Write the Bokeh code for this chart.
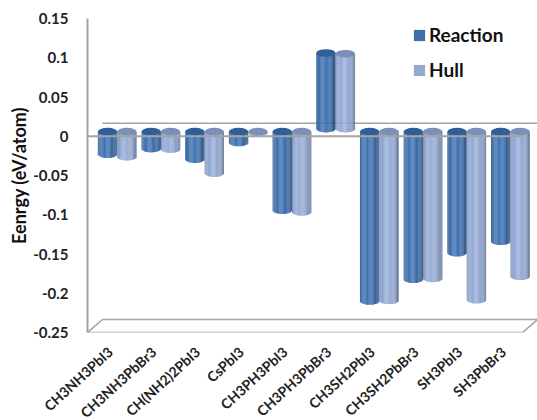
import numpy as np
from bokeh.plotting import figure
from bokeh.models import Range1d, FixedTicker, Legend, LegendItem
from bokeh.embed import file_html
from bokeh.resources import INLINE

categories = ["CH3NH3PbI3", "CH3NH3PbBr3", "CH(NH2)2PbI3", "CsPbI3", "CH3PH3PbI3",
              "CH3PH3PbBr3", "CH3SH2PbI3", "CH3SH2PbBr3", "SH3PbI3", "SH3PbBr3"]
reaction = [-0.0287, -0.0216, -0.0351, -0.0139, -0.1001, 0.0963, -0.2158, -0.1881, -0.1542, -0.1397]
hull = [-0.032, -0.0223, -0.0529, -0.001, -0.1023, 0.0955, -0.2149, -0.1869, -0.2142, -0.1843]
y_ticks = [0.15, 0.1, 0.05, 0, -0.05, -0.1, -0.15, -0.2, -0.25]
y_labels = ["0.15", "0.1", "0.05", "0", "-0.05", "-0.1", "-0.15", "-0.2", "-0.25"]

PX_X = 43.7          # px per category
PX_Y = 39.25 / 0.05  # px per unit
BAR_W = 19.4 / PX_X
CAP_H = 3.8 / PX_Y
BASE_NEG = 4.6 / PX_Y
BASE_POS = 7.6 / PX_Y
DEPTH_X = 15 / PX_X
DEPTH_Y = 13 / PX_Y
X0, X1 = -0.68, 9.62
FLOOR_R = X1 - DEPTH_X
Y_MIN, Y_MAX = -0.25, 0.15
TICK_SHIFT = -0.16

dark_stops = [(0, "#3d6698"), (0.12, "#3a6aa6"), (0.45, "#3f74b6"), (0.8, "#33619b"), (1, "#2c4f7c")]
light_stops = [(0, "#7a90b8"), (0.12, "#8aa1cd"), (0.45, "#9ab0da"), (0.8, "#889dc5"), (1, "#627495")]


def hex2rgb(h):
    return np.array([int(h[i:i + 2], 16) for i in (1, 3, 5)], float)


def shade(stops, t):
    ts = [s[0] for s in stops]
    cs = np.array([hex2rgb(s[1]) for s in stops])
    c = [np.interp(t, ts, cs[:, k]) for k in range(3)]
    return "#%02x%02x%02x" % tuple(int(round(v)) for v in c)


def cylinders(values, side, stops, cap):
    N = 22
    L, R, T, B, C = [], [], [], [], []
    cx, cy = [], []
    for i, v in enumerate(values):
        c = i + side * BAR_W / 2
        base = BASE_NEG if v < 0 else BASE_POS
        end = base + v
        for k in range(N):
            t = (k + 0.5) / N
            sag = CAP_H * np.sqrt(max(1 - (2 * t - 1) ** 2, 0))
            L.append(c - BAR_W / 2 + k * BAR_W / N)
            R.append(c - BAR_W / 2 + (k + 1.15) * BAR_W / N if k < N - 1 else c + BAR_W / 2)
            if v < 0:
                T.append(base)
                B.append(end - sag)
            else:
                T.append(end)
                B.append(base - sag)
            C.append(shade(stops, t))
        cx.append(c)
        cy.append(end if v > 0 else base)
    p.quad(left=L, right=R, top=T, bottom=B, fill_color=C, line_color=None)
    p.ellipse(x=cx, y=cy, width=BAR_W, height=2 * CAP_H, fill_color=cap, line_color=None)


p = figure(width=537, height=420, output_backend="svg", toolbar_location=None,
           x_range=Range1d(X0, X1), y_range=Range1d(Y_MIN, Y_MAX),
           frame_width=450, frame_height=314,
           min_border_left=87, min_border_right=0, min_border_top=18, min_border_bottom=88,
           background_fill_color="white", border_fill_color="white", outline_line_color=None)
p.grid.visible = False

GREY = "#a3a3a3"
p.segment([X0 + DEPTH_X, X0, X0 + DEPTH_X, FLOOR_R], [Y_MIN + DEPTH_Y, Y_MIN, 0 + DEPTH_Y, Y_MIN],
          [X1, FLOOR_R, X1, X1], [Y_MIN + DEPTH_Y, Y_MIN, 0 + DEPTH_Y, Y_MIN + DEPTH_Y],
          line_color=GREY, line_width=1.6)
p.segment([X0], [Y_MIN], [X0 + DEPTH_X], [Y_MIN + DEPTH_Y], line_color=GREY, line_width=1.6)

cylinders(reaction, -1, dark_stops, "#2f5f98")
cylinders(hull, 1, light_stops, "#7a90b8")

p.segment([X0], [0], [FLOOR_R], [0], line_color=GREY, line_width=1.8)

yax = p.yaxis[0]
yax.ticker = FixedTicker(ticks=y_ticks)
yax.major_label_overrides = dict(zip(y_ticks, y_labels))
yax.axis_label = "Eenrgy (eV/atom)"
yax.axis_label_text_font = "Lato"
yax.axis_label_text_font_style = "bold"
yax.axis_label_text_font_size = "18px"
yax.axis_label_text_color = "#111111"
yax.axis_label_standoff = 0
yax.major_label_text_font = "Lato"
yax.major_label_text_font_style = "bold"
yax.major_label_text_font_size = "15px"
yax.major_label_text_color = "#222222"
yax.major_label_standoff = 13
yax.major_tick_line_color = None
yax.minor_tick_line_color = None
yax.axis_line_color = GREY
yax.axis_line_width = 2

xax = p.xaxis[0]
xax.ticker = FixedTicker(ticks=[i + TICK_SHIFT for i in range(len(categories))])
xax.major_label_overrides = {i + TICK_SHIFT: c for i, c in enumerate(categories)}
xax.major_label_orientation = 0.74
xax.major_label_text_font = "Lato"
xax.major_label_text_font_style = "bold"
xax.major_label_text_font_size = "14px"
xax.major_label_text_color = "#222222"
xax.major_label_standoff = 11
xax.major_tick_line_color = None
xax.minor_tick_line_color = None
xax.axis_line_color = None

nan = float("nan")
r1 = p.quad(left=[nan], right=[nan], top=[nan], bottom=[nan], fill_color="#3f70aa", line_color=None)
r2 = p.quad(left=[nan], right=[nan], top=[nan], bottom=[nan], fill_color="#95a9d0", line_color=None)
legend = Legend(items=[LegendItem(label="Reaction", renderers=[r1]), LegendItem(label="Hull", renderers=[r2])],
                location=(325, 251), border_line_color=None, background_fill_alpha=0,
                label_text_font="Lato", label_text_font_style="bold", label_text_font_size="19px",
                label_text_color="#111111", glyph_width=14, glyph_height=14, spacing=12,
                label_standoff=3, padding=6, margin=0, label_height=20)
p.add_layout(legend, "center")

open("out.html", "w").write(file_html(p, INLINE))
